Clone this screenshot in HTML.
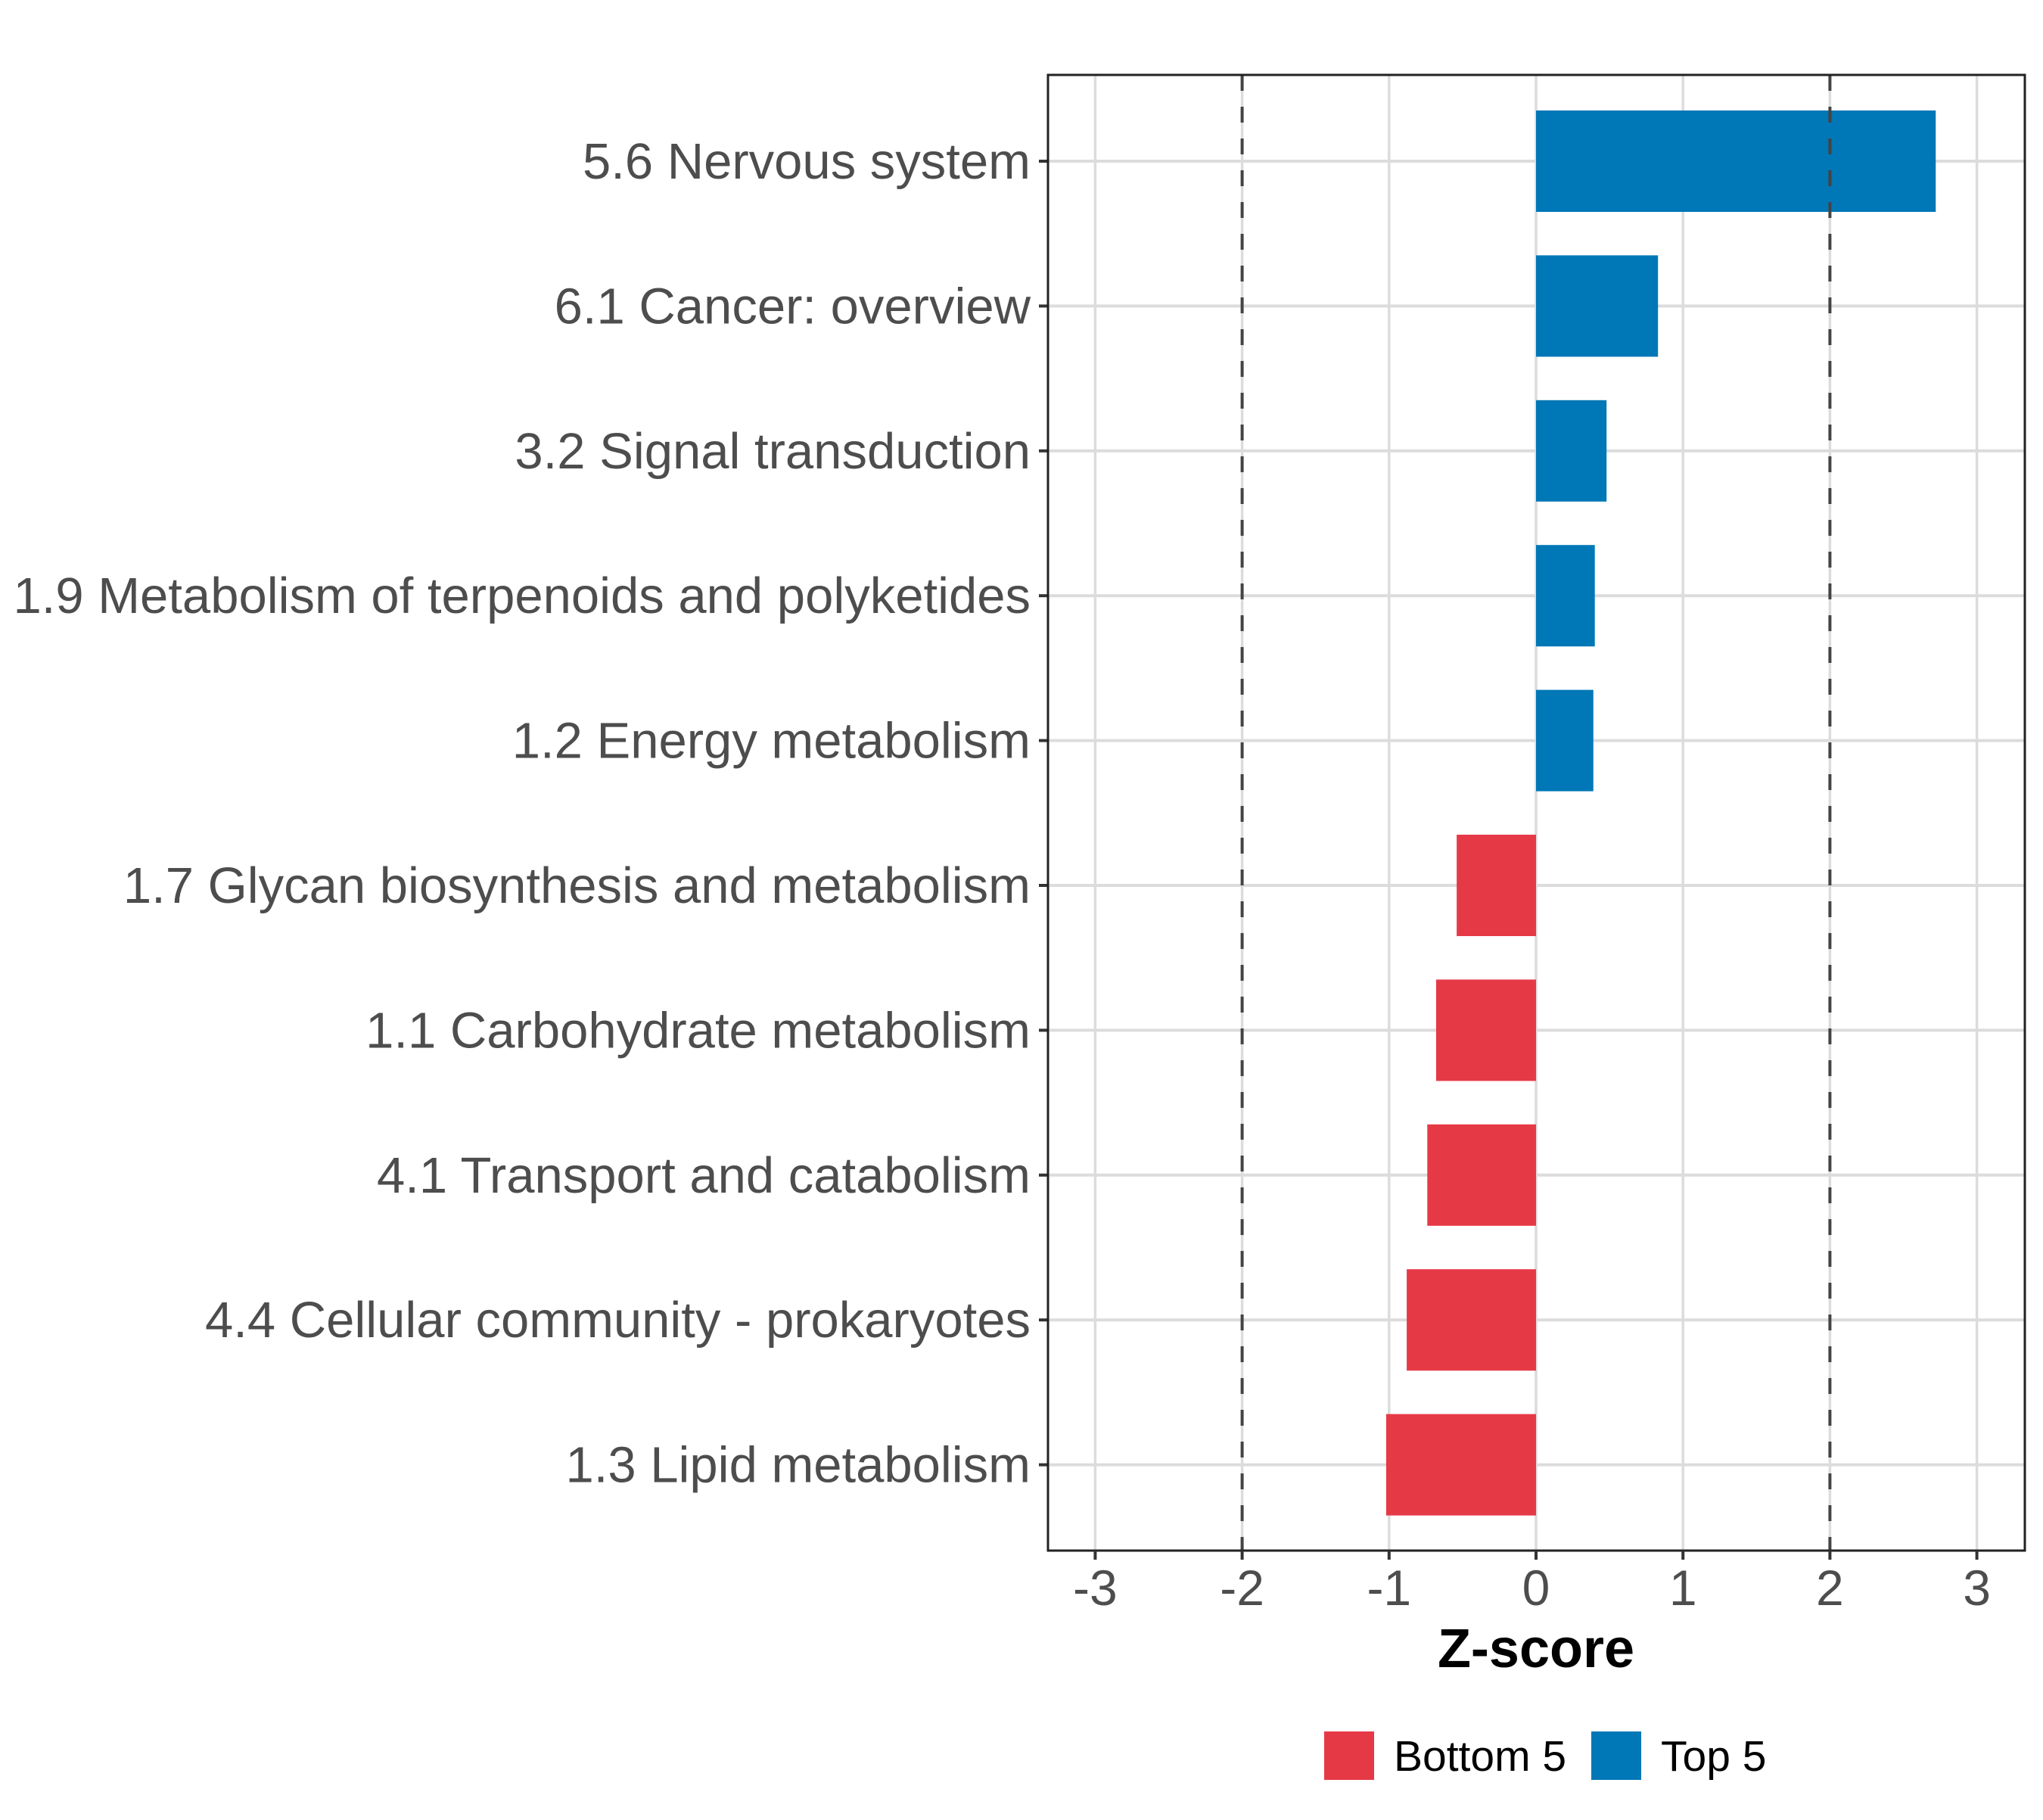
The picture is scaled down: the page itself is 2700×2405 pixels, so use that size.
<!DOCTYPE html>
<html><head><meta charset="utf-8"><style>
html,body{margin:0;padding:0;background:#fff}
svg text{font-family:"Liberation Sans",Arial,sans-serif}
</style></head><body>
<svg id="chart" width="2700" height="2400" viewBox="0 0 2700 2400" xmlns="http://www.w3.org/2000/svg">
<rect width="2700" height="2400" fill="#fff"/>
<g id="grid"></g><g id="bars"></g><g id="axes"></g>
</svg>
<script>
const categories=["5.6 Nervous system","6.1 Cancer: overview","3.2 Signal transduction","1.9 Metabolism of terpenoids and polyketides","1.2 Energy metabolism","1.7 Glycan biosynthesis and metabolism","1.1 Carbohydrate metabolism","4.1 Transport and catabolism","4.4 Cellular community - prokaryotes","1.3 Lipid metabolism"];
const values=[2.72,0.83,0.48,0.40,0.39,-0.54,-0.68,-0.74,-0.88,-1.02];
const groups=["Top 5","Top 5","Top 5","Top 5","Top 5","Bottom 5","Bottom 5","Bottom 5","Bottom 5","Bottom 5"];
const xTicks=[-3,-2,-1,0,1,2,3];
const refLines=[-2,2];
const legendLabels=["Bottom 5","Top 5"];
const colors={"Bottom 5":"#e63946","Top 5":"#0077b6"};
const NS="http://www.w3.org/2000/svg";
const L=1385,R=2676,T=99,B=2049;
const xs=v=>2030+v*194.2;
const ys=i=>213+i*191.4;
function mk(p,tag,a){const e=document.createElementNS(NS,tag);for(const k in a)e.setAttribute(k,a[k]);p.appendChild(e);return e;}
const g=document.getElementById('grid'),b=document.getElementById('bars'),ax=document.getElementById('axes');
xTicks.forEach(t=>{const l=mk(g,'line',{x1:xs(t),x2:xs(t),y1:T,y2:B,stroke:'#dcdcdc','stroke-width':3.5});

});
categories.forEach((c,i)=>{const l=mk(g,'line',{x1:L,x2:R,y1:ys(i),y2:ys(i),stroke:'#dcdcdc','stroke-width':4});

});
categories.forEach((c,i)=>{const v=values[i];const x1=Math.min(xs(0),xs(v)),w=Math.abs(xs(v)-xs(0));
const r=mk(b,'rect',{x:x1,y:ys(i)-67,width:w,height:134,fill:colors[groups[i]]});


const t=mk(ax,'text',{x:1362,y:ys(i)+23,'text-anchor':'end','font-size':67,fill:'#4d4d4d'});t.textContent=c;


mk(ax,'line',{x1:1373,x2:L,y1:ys(i),y2:ys(i),stroke:'#333','stroke-width':4});});
refLines.forEach(v=>{const l=mk(b,'line',{x1:xs(v),x2:xs(v),y1:T,y2:B,stroke:'#444','stroke-width':4,'stroke-dasharray':'21 21'});

});
const fr=mk(ax,'rect',{x:L,y:T,width:R-L,height:B-T,fill:'none',stroke:'#222','stroke-width':3});


xTicks.forEach(t=>{mk(ax,'line',{x1:xs(t),x2:xs(t),y1:B,y2:B+12,stroke:'#333','stroke-width':4});
const tx=mk(ax,'text',{x:xs(t),y:2121,'text-anchor':'middle','font-size':66,fill:'#4d4d4d'});tx.textContent=t;

});
const xt=mk(ax,'text',{x:2030,y:2203,'text-anchor':'middle','font-size':72,'font-weight':'bold',fill:'#000'});xt.textContent='Z-score';


const lx=[1750,2103];
legendLabels.forEach((lab,i)=>{const r=mk(ax,'rect',{x:lx[i],y:2288,width:66,height:64,fill:colors[lab]});


const t=mk(ax,'text',{x:lx[i]+92,y:2340,'font-size':57,fill:'#000'});t.textContent=lab;

});
</script>
</body></html>
